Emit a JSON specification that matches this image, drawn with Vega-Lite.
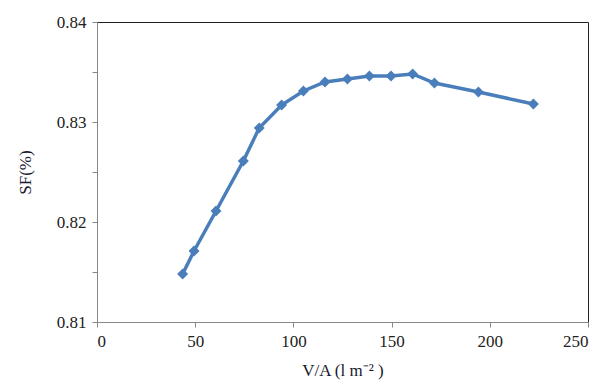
{
  "$schema": "https://vega.github.io/schema/vega-lite/v6.json",
  "width": 491,
  "height": 300,
  "autosize": "none",
  "padding": {"left": 97, "top": 22, "right": 14, "bottom": 70},
  "background": "white",
  "config": {
    "view": {"stroke": "#222", "strokeWidth": 1},
    "font": "Liberation Serif",
    "axis": {
      "grid": false,
      "domainColor": "#888",
      "tickColor": "#888",
      "tickSize": 5,
      "labelColor": "#222",
      "labelFont": "Liberation Serif",
      "labelFontSize": 17,
      "titleFont": "Liberation Serif",
      "titleFontSize": 17,
      "titleFontWeight": "normal",
      "titleColor": "#1a1a2e"
    }
  },
  "data": {
    "values": [
      {"va": 43.6, "sf": 0.8148},
      {"va": 49.4, "sf": 0.8171},
      {"va": 60.6, "sf": 0.8211},
      {"va": 74.5, "sf": 0.8261},
      {"va": 82.6, "sf": 0.8294},
      {"va": 94.0, "sf": 0.8317},
      {"va": 105.1, "sf": 0.8331},
      {"va": 116.1, "sf": 0.8340},
      {"va": 127.5, "sf": 0.8343},
      {"va": 138.7, "sf": 0.8346},
      {"va": 149.7, "sf": 0.8346},
      {"va": 160.7, "sf": 0.8348},
      {"va": 171.8, "sf": 0.8339},
      {"va": 194.2, "sf": 0.8330},
      {"va": 222.2, "sf": 0.8318}
    ]
  },
  "mark": {
    "type": "line",
    "color": "#4A7EBB",
    "strokeWidth": 3.5,
    "point": {"shape": "diamond", "size": 120, "filled": true, "color": "#4A7EBB", "opacity": 1}
  },
  "encoding": {
    "x": {
      "field": "va",
      "type": "quantitative",
      "scale": {"domain": [0, 250], "nice": false, "zero": false},
      "axis": {
        "values": [0, 50, 100, 150, 200, 250],
        "labelPadding": 6,
        "title": "V/A (l m⁻² )",
        "titlePadding": 13
      }
    },
    "y": {
      "field": "sf",
      "type": "quantitative",
      "scale": {"domain": [0.81, 0.84], "nice": false, "zero": false},
      "axis": {
        "values": [0.81, 0.815, 0.82, 0.825, 0.83, 0.835, 0.84],
        "labelExpr": "(round(datum.value*1000) % 10 == 0) ? format(datum.value, '.2f') : ''",
        "labelPadding": 6,
        "title": "SF(%)",
        "titlePadding": 22
      }
    }
  }
}
